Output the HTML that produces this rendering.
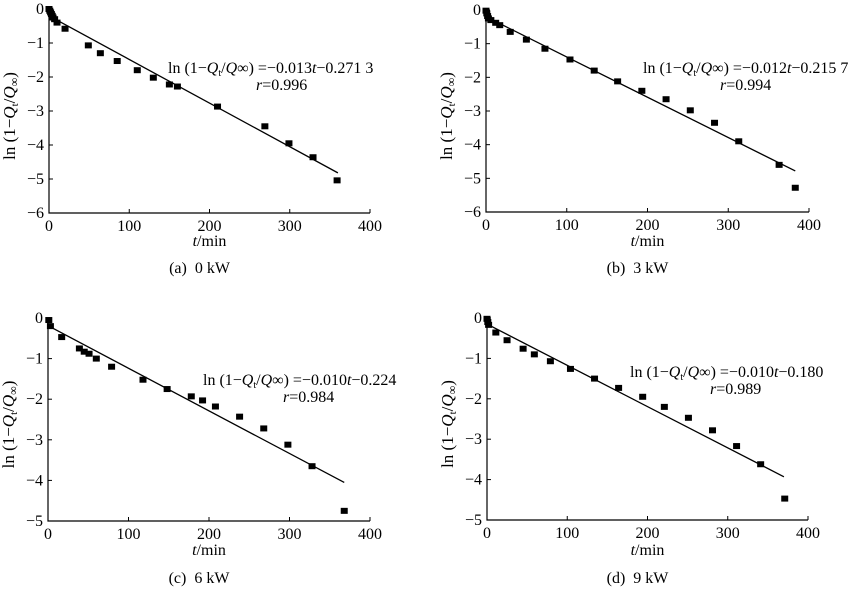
<!DOCTYPE html>
<html><head><meta charset="utf-8"><style>
body{margin:0;background:#fff}
svg{display:block}
svg text{font-family:"Liberation Serif","Times New Roman",serif}
</style></head><body>
<svg id="fig" width="855" height="589" viewBox="0 0 855 589" xmlns="http://www.w3.org/2000/svg" font-family="Liberation Serif, serif"></svg>
<script>
const tA=[0,1,2,3,4,5,7,10,20,49,64,85,110,130,150,160,210,269,299,329,359];
const yA=[0,-0.05,-0.1,-0.15,-0.2,-0.25,-0.3,-0.4,-0.58,-1.07,-1.3,-1.53,-1.8,-2.02,-2.22,-2.28,-2.87,-3.45,-3.95,-4.36,-5.04];
const tB=[0,1,2,3,6,12,17,30,50,73,104,134,163,193,223,253,283,313,363,383];
const yB=[-0.02,-0.1,-0.18,-0.25,-0.3,-0.38,-0.45,-0.65,-0.88,-1.15,-1.47,-1.8,-2.12,-2.4,-2.65,-2.98,-3.35,-3.9,-4.6,-5.28];
const tC=[1,3,17,39,45,51,60,79,118,148,178,192,208,238,268,298,328,368];
const yC=[-0.05,-0.2,-0.47,-0.75,-0.83,-0.88,-1.0,-1.2,-1.52,-1.75,-1.93,-2.03,-2.18,-2.43,-2.72,-3.12,-3.65,-4.75];
const tD=[0,1,2,11,25,45,59,79,104,134,164,194,221,251,281,311,341,371];
const yD=[-0.02,-0.1,-0.17,-0.36,-0.55,-0.76,-0.9,-1.07,-1.26,-1.5,-1.73,-1.95,-2.2,-2.47,-2.78,-3.17,-3.62,-4.47];
const fitT0=[0,0,3,0];
const fitY0=[-0.2,-0.2,-0.22,-0.15];
const fitT1=[360,383,368,370];
const fitY1=[-4.82,-4.78,-4.05,-3.93];
const xTicks=[0,100,200,300,400];
const yTicksTop=[0,-1,-2,-3,-4,-5,-6];
const yTicksBot=[0,-1,-2,-3,-4,-5];
const eqns=["−0.013","−0.271 3","−0.012","−0.215 7","−0.010","−0.224","−0.010","−0.180"];
const rvals=["0.996","0.994","0.984","0.989"];
const captions=["(a)\u00a0\u00a00 kW","(b)\u00a0\u00a03 kW","(c)\u00a0\u00a06 kW","(d)\u00a0\u00a09 kW"];

const NS="http://www.w3.org/2000/svg";
const svg=document.getElementById('fig');
function mk(tag,attrs,parent){const e=document.createElementNS(NS,tag);for(const k in attrs)e.setAttribute(k,attrs[k]);(parent||svg).appendChild(e);return e;}

const panels=[
 {t:tA,y:yA,L:49,R:370,T:9,B:213,ymin:-6,yt:yTicksTop,eqX:168,eqY:73,rX:256,rY:90,xlY:246,capY:273},
 {t:tB,y:yB,L:486,R:809,T:10,B:212,ymin:-6,yt:yTicksTop,eqX:643,eqY:73,rX:720,rY:90,xlY:246,capY:273},
 {t:tC,y:yC,L:48,R:370,T:318,B:521,ymin:-5,yt:yTicksBot,eqX:203,eqY:385,rX:283,rY:402,xlY:555,capY:583},
 {t:tD,y:yD,L:487,R:808,T:318,B:520,ymin:-5,yt:yTicksBot,eqX:630,eqY:377,rX:710,rY:394,xlY:555,capY:583}
];
const ids=['a','b','c','d'];
panels.forEach((p,i)=>{
 const g=mk('g',{});
 
 
 const X=v=>p.L+(v/400)*(p.R-p.L);
 const Y=v=>p.T+(v/p.ymin)*(p.B-p.T);
 const ax=mk('path',{d:`M${p.L},${p.T}V${p.B}H${p.R}`,stroke:'#000','stroke-width':1.2,fill:'none'},g);
 
 
 xTicks.forEach(v=>{
  mk('line',{x1:X(v),x2:X(v),y1:p.B,y2:p.B-4,stroke:'#000'},g);
  const tx=mk('text',{x:X(v),y:p.B+18,'font-size':16,'text-anchor':'middle'},g);tx.textContent=v;
  
  
 });
 p.yt.forEach(v=>{
  mk('line',{x1:p.L,x2:p.L+4,y1:Y(v),y2:Y(v),stroke:'#000'},g);
  const tx=mk('text',{x:p.L-5,y:Y(v)+5,'font-size':16,'text-anchor':'end'},g);tx.textContent=v===0?'0':'−'+(-v);
  
  
 });
 const xl=mk('text',{x:(p.L+p.R)/2,y:p.xlY,'font-size':16,'text-anchor':'middle'},g);
 xl.innerHTML='<tspan font-style="italic">t</tspan>/min';
 
 
 const cy=(p.T+p.B)/2+5, cx=p.L-34;
 const yl=mk('text',{x:cx,y:cy,'font-size':17,'text-anchor':'middle',transform:`rotate(-90 ${cx} ${cy})`},g);
 yl.innerHTML='ln (1−<tspan font-style="italic">Q</tspan><tspan font-size="11" dy="3">t</tspan><tspan dy="-3">/</tspan><tspan font-style="italic">Q</tspan><tspan font-size="12" dy="3">∞</tspan><tspan dy="-3">)</tspan>';
 
 
 const fl=mk('line',{x1:X(fitT0[i]),y1:Y(fitY0[i]),x2:X(fitT1[i]),y2:Y(fitY1[i]),stroke:'#000','stroke-width':1.3},g);
 
 
 p.t.forEach((t,j)=>{
  const r=mk('rect',{x:X(t)-3.5,y:Y(p.y[j])-3,width:7,height:6,fill:'#000'},g);
  
  
 });
 const eq=mk('text',{x:p.eqX,y:p.eqY,'font-size':16},g);
 eq.innerHTML='ln (1−<tspan font-style="italic">Q</tspan><tspan font-size="10" dy="3">t</tspan><tspan dy="-3">/</tspan><tspan font-style="italic">Q</tspan>∞) ='+eqns[2*i]+'<tspan font-style="italic">t</tspan>'+eqns[2*i+1];
 
 
 const rv=mk('text',{x:p.rX,y:p.rY,'font-size':16},g);
 rv.innerHTML='<tspan font-style="italic">r</tspan>='+rvals[i];
 
 
 const cap=mk('text',{x:(p.L+p.R)/2-10,y:p.capY,'font-size':16,'text-anchor':'middle'},g);
 cap.textContent=captions[i];
 
 
});
</script>
</body></html>
